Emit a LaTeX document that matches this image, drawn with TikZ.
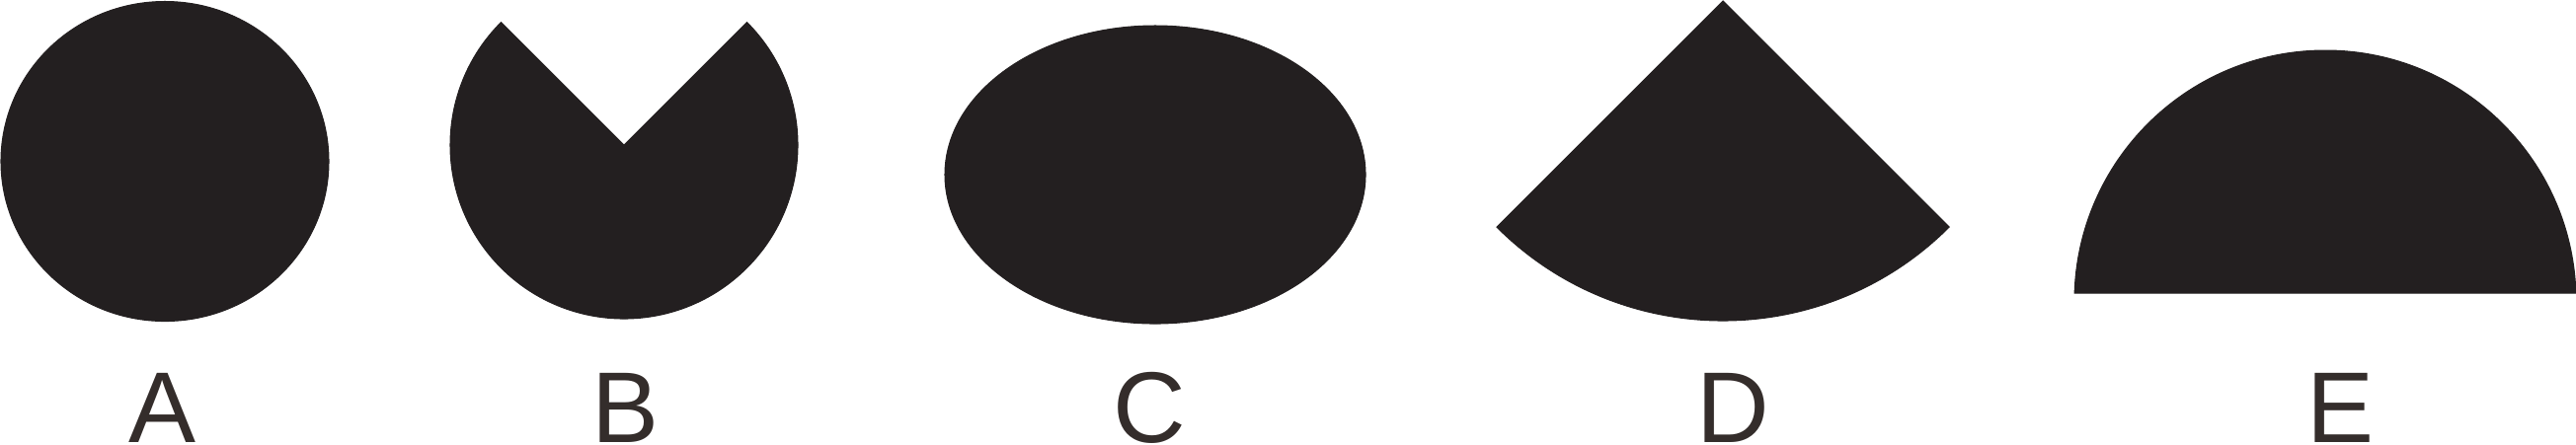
\documentclass[tikz,border=0pt]{standalone}
\usepackage{fontspec}
\setmainfont{Liberation Sans}
\definecolor{inkfill}{RGB}{35,31,32}
\definecolor{inktext}{RGB}{52,45,43}
\begin{document}
\begin{tikzpicture}[x=0.01cm, y=-0.01cm,
  solid shape/.style={fill=inkfill, draw=inkfill, line width=0.3pt, line join=miter},
  shape label/.style={anchor=base, inner sep=0pt, text=inktext, font=\fontsize{29}{29}\selectfont}]
\useasboundingbox (0,0) rectangle (2609,450);
% A: ellipse
\fill[solid shape] (167,163.5) ellipse [x radius=166, y radius=162];
% B: disc with an upward 90-degree wedge removed
\fill[solid shape] (632,147) -- ++(-45:176) arc[start angle=-45, end angle=225, radius=176] -- cycle;
% C: wide ellipse
\fill[solid shape] (1170,177) ellipse [x radius=213, y radius=151];
% D: 90-degree sector pointing down
\fill[solid shape] (1745,1) -- ++(45:324) arc[start angle=45, end angle=135, radius=324] -- cycle;
% E: circular segment (almost a half disc)
\fill[solid shape] (2355,305) ++(-1.8:254) arc[start angle=-1.8, end angle=-178.2, radius=254] -- cycle;
% labels
\node[shape label] (la) at (165,448) {A};
\node[shape label] (lb) at (634,448) {B};
\node[shape label] (lc) at (1164,448) {C};
\node[shape label] (ld) at (1755,448) {D};
\node[shape label] (le) at (2370,448) {E};
\end{tikzpicture}
\end{document}
